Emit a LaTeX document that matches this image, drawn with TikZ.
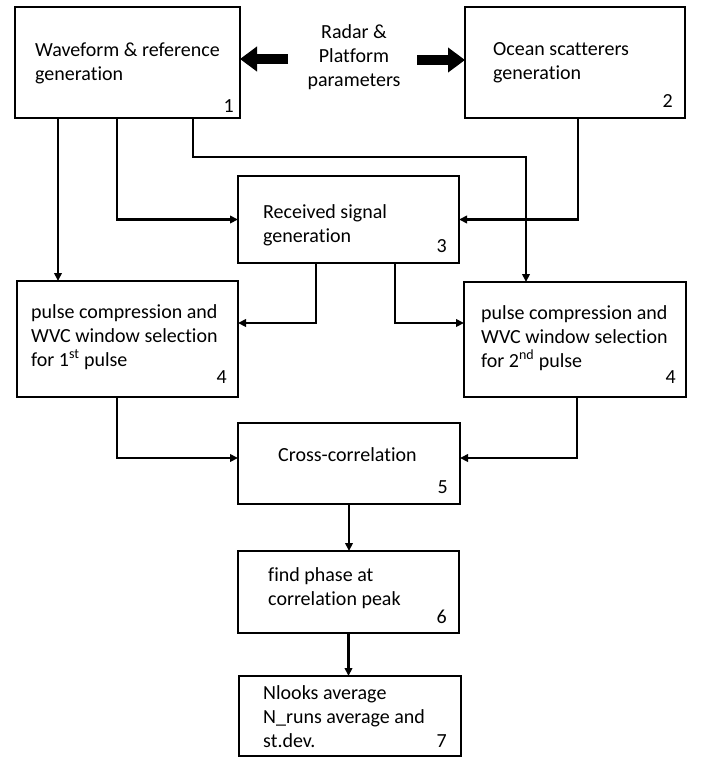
\documentclass[tikz,border=0pt]{standalone}
\usepackage{fontspec}
\setmainfont{Carlito}[Ligatures=NoCommon]
\usetikzlibrary{arrows.meta}
\begin{document}
\begin{tikzpicture}[x=1pt,y=-1pt,
  box/.style={draw, line width=2pt, inner sep=0pt, outer sep=0pt},
  txt/.style={anchor=base west, inner sep=0pt, font=\fontsize{20}{24}\selectfont},
  num/.style={anchor=base east, inner sep=0pt, font=\fontsize{20}{24}\selectfont},
  arr/.style={line width=2.2pt, -{Triangle[length=8pt,width=7.5pt]}},
  bigarr/.style={line width=10pt, -{Triangle[length=17pt,width=24pt]}}]
\useasboundingbox (0,0) rectangle (701,758);

% boxes
\node[box, minimum width=225pt, minimum height=111pt] (b1) at (127.5,62.5) {};
\node[box, minimum width=220pt, minimum height=111pt] (b2) at (575,62.5) {};
\node[box, minimum width=221pt, minimum height=87pt] (b3) at (348.5,219.5) {};
\node[box, minimum width=221pt, minimum height=116pt] (b4l) at (127.5,339) {};
\node[box, minimum width=222pt, minimum height=115pt] (b4r) at (575,339.5) {};
\node[box, minimum width=222pt, minimum height=81pt] (b5) at (349,463.5) {};
\node[box, minimum width=221pt, minimum height=82pt] (b6) at (348.5,592) {};
\node[box, line width=2.8pt, minimum width=222pt, minimum height=80pt] (b7) at (350,716) {};

% texts
\node[txt] (t1) at (35,56) {\begin{tabular}[t]{@{}l@{}}Waveform \& reference\\generation\end{tabular}};
\node[txt] (t2) at (493,55) {\begin{tabular}[t]{@{}l@{}}Ocean scatterers\\generation\end{tabular}};
\node[txt] (t3) at (263,218) {\begin{tabular}[t]{@{}l@{}}Received signal\\generation\end{tabular}};
\node[txt] (t4l) at (31,318) {\begin{tabular}[t]{@{}l@{}}pulse compression and\\WVC window selection\\for 1\textsuperscript{st} pulse\end{tabular}};
\node[txt] (t4r) at (481,319) {\begin{tabular}[t]{@{}l@{}}pulse compression and\\WVC window selection\\for 2\textsuperscript{nd} pulse\end{tabular}};
\node[txt] (t5) at (278,461) {Cross-correlation};
\node[txt] (t6) at (268,581) {\begin{tabular}[t]{@{}l@{}}find phase at\\correlation peak\end{tabular}};
\node[txt] (t7) at (263,699) {\begin{tabular}[t]{@{}l@{}}Nlooks average\\N\_runs average and\\st.dev.\end{tabular}};
\node[anchor=base, inner sep=0pt, font=\fontsize{20}{24}\selectfont] (radar) at (354,38) {\begin{tabular}[t]{@{}c@{}}Radar \&\\Platform\\parameters\end{tabular}};

% numbers
\node[num] (n1) at (234,112) {1};
\node[num] (n2) at (673,107) {2};
\node[num] (n3) at (447,252) {3};
\node[num] (n4l) at (227,383) {4};
\node[num] (n4r) at (676,383) {4};
\node[num] (n5) at (448,493) {5};
\node[num] (n6) at (447,623) {6};
\node[num] (n7) at (447,747) {7};

% big arrows
\coordinate (pl) at (288,59);
\coordinate (pr) at (417,60);
\draw[bigarr] (pl) -- (pl -| b1.east);
\draw[bigarr] (pr) -- (pr -| b2.west);

% connectors
\coordinate (s1) at ([xshift=43pt]b1.south west);
\draw[arr] (s1) -- (s1 |- b4l.north);
\draw[arr] ([xshift=102pt]b1.south west) |- (b3.west);
\coordinate (k1) at (526,157);
\draw[arr] ([xshift=178pt]b1.south west) |- (k1) -- (k1 |- b4r.north);
\draw[arr] ([xshift=3pt]b2.south) |- (b3.east);
\draw[arr] ([xshift=-32.5pt]b3.south) |- ([yshift=16pt]b4l.east);
\draw[arr] ([xshift=46.5pt]b3.south) |- ([yshift=16.5pt]b4r.west);
\draw[arr] ([xshift=-10.5pt]b4l.south) |- ([yshift=5.5pt]b5.west);
\draw[arr] ([xshift=2pt]b4r.south) |- ([yshift=5.5pt]b5.east);
\draw[arr] (b5.south) -- (b5.south |- b6.north);
\draw[arr] (b6.south) -- (b6.south |- b7.north);
\end{tikzpicture}
\end{document}
